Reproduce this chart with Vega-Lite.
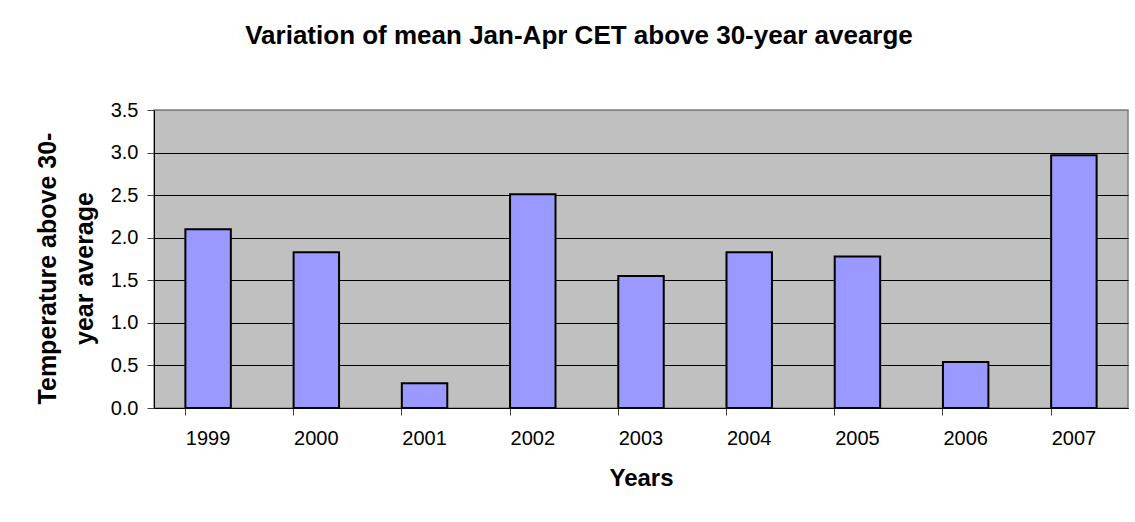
{
  "$schema": "https://vega.github.io/schema/vega-lite/v6.json",
  "autosize": {"type": "none"},
  "padding": {"left": 154, "top": 110, "right": 7, "bottom": 114},
  "width": 974,
  "height": 298,
  "background": "white",
  "title": {
    "text": "Variation of mean Jan-Apr CET above 30-year avearge",
    "font": "Liberation Sans",
    "fontSize": 26,
    "fontWeight": "bold",
    "color": "black",
    "anchor": "middle",
    "baseline": "alphabetic",
    "offset": 30,
    "dx": -62
  },
  "data": {
    "values": [
      {"year": "1999", "temp": 2.10},
      {"year": "2000", "temp": 1.83},
      {"year": "2001", "temp": 0.29},
      {"year": "2002", "temp": 2.51},
      {"year": "2003", "temp": 1.55},
      {"year": "2004", "temp": 1.83},
      {"year": "2005", "temp": 1.78},
      {"year": "2006", "temp": 0.54},
      {"year": "2007", "temp": 2.97}
    ]
  },
  "mark": {"type": "bar", "color": "#9999FF", "stroke": "black", "strokeWidth": 2},
  "encoding": {
    "x": {
      "field": "year",
      "type": "nominal",
      "scale": {"paddingInner": 0.58, "paddingOuter": 0.29},
      "axis": {
        "title": "Years",
        "titleFont": "Liberation Sans",
        "titleFontSize": 24,
        "titleFontWeight": "bold",
        "titleColor": "black",
        "titlePadding": 18,
        "labelFont": "Liberation Sans",
        "labelFontSize": 20,
        "labelColor": "black",
        "labelAngle": 0,
        "labelPadding": 13,
        "bandPosition": 0,
        "tickSize": 7,
        "tickColor": "#444444",
        "domainColor": "black",
        "grid": false
      }
    },
    "y": {
      "field": "temp",
      "type": "quantitative",
      "scale": {"domain": [0, 3.5], "nice": false},
      "axis": {
        "values": [0, 0.5, 1, 1.5, 2, 2.5, 3, 3.5],
        "format": ".1f",
        "title": ["Temperature above 30-", "year average"],
        "titleFont": "Liberation Sans",
        "titleFontSize": 25,
        "titleFontWeight": "bold",
        "titleColor": "black",
        "titleLineHeight": 37,
        "titleAngle": -90,
        "titleBaseline": "top",
        "titleAlign": "center",
        "titleX": -119,
        "titleY": 158,
        "labelFont": "Liberation Sans",
        "labelFontSize": 20,
        "labelColor": "black",
        "labelPadding": 9,
        "tickSize": 7,
        "tickColor": "#444444",
        "domainColor": "black",
        "grid": true,
        "gridColor": {"condition": {"test": "datum.value >= 3.5", "value": "#808080"}, "value": "#000000"},
        "gridWidth": 1
      }
    }
  },
  "config": {
    "view": {"fill": "#C0C0C0", "stroke": "#808080", "strokeWidth": 1.5}
  }
}
